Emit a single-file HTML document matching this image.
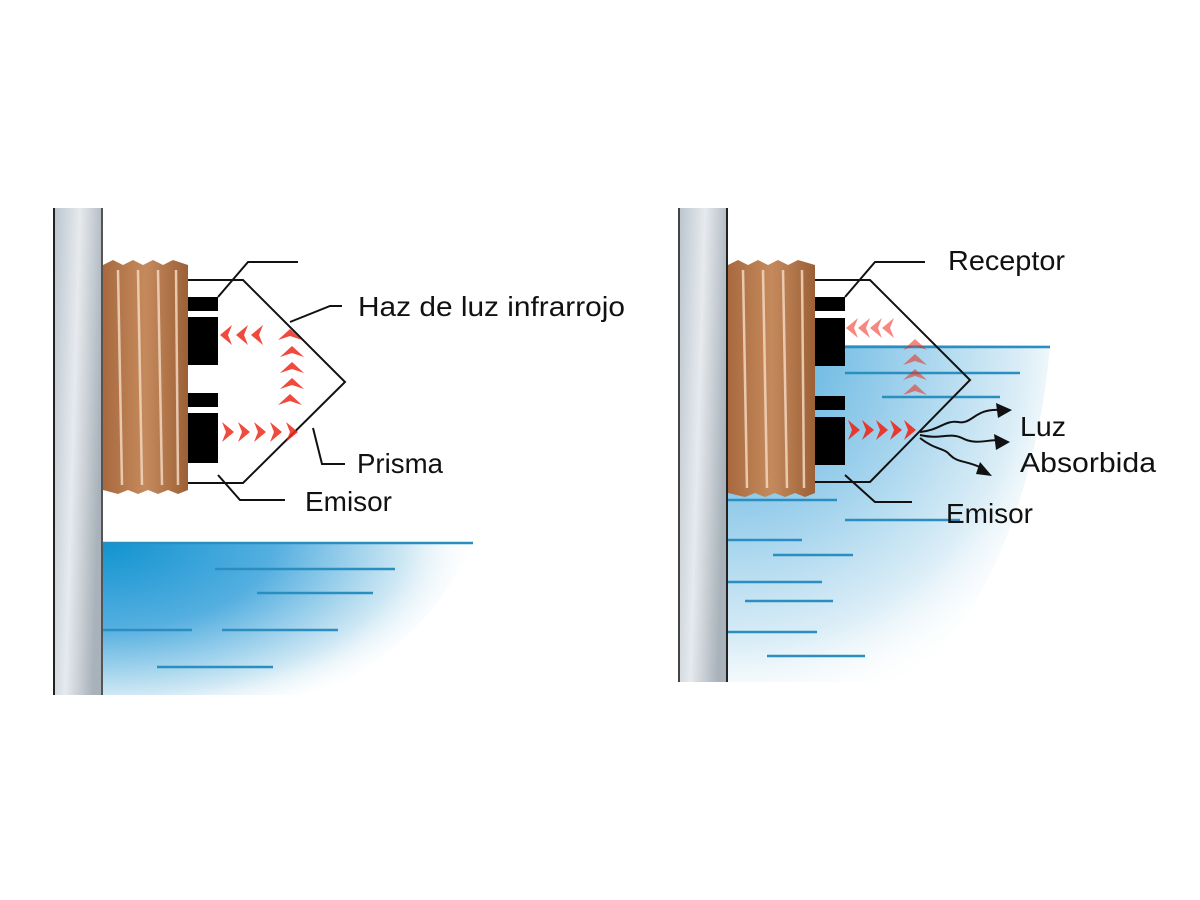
<!DOCTYPE html>
<html><head><meta charset="utf-8"><style>
html,body{margin:0;padding:0;background:#fff;}
svg{display:block}
text{font-family:"Liberation Sans",sans-serif;font-size:28px;fill:#111}
</style></head><body>
<svg width="1200" height="900" viewBox="0 0 1200 900" xmlns="http://www.w3.org/2000/svg">
<defs>
<linearGradient id="wall" x1="0" x2="1" y1="0" y2="0.3">
<stop offset="0" stop-color="#b9c3cc"/><stop offset="0.5" stop-color="#e6eaee"/><stop offset="1" stop-color="#a9b2ba"/></linearGradient>
<linearGradient id="wood" x1="0" x2="1">
<stop offset="0" stop-color="#a8693f"/><stop offset="0.5" stop-color="#c58a5c"/><stop offset="1" stop-color="#9c6037"/></linearGradient>
<radialGradient id="wl" cx="103" cy="543" r="380" gradientUnits="userSpaceOnUse" gradientTransform="translate(103 543) scale(1 0.5) translate(-103 -543)">
<stop offset="0" stop-color="#1193d0"/><stop offset="0.45" stop-color="#55afe0"/><stop offset="0.8" stop-color="#cfe8f4"/><stop offset="1" stop-color="#ffffff" stop-opacity="0"/></radialGradient>
<radialGradient id="wr" cx="728" cy="350" r="380" gradientUnits="userSpaceOnUse">
<stop offset="0" stop-color="#4aaadb"/><stop offset="0.4" stop-color="#92cbea"/><stop offset="0.78" stop-color="#dceef7"/><stop offset="1" stop-color="#ffffff" stop-opacity="0"/></radialGradient>
<g id="chevR"><path d="M0,-10 L12,0 L0,10 L4,0Z" fill="#ee2a1c"/></g>
<g id="chevL"><path d="M0,-10 L-12,0 L0,10 L-4,0Z" fill="#ee2a1c"/></g>
<g id="chevU"><path d="M-12,5 L0,-6 L12,5 L0,1Z" fill="#ee2a1c"/></g>
</defs>

<!-- LEFT PANEL -->
<path d="M103,543 L473,543 C450,600 380,680 300,695 L103,695Z" fill="url(#wl)"/>
<g stroke="#2a8fc0" stroke-width="2.5">
<line x1="103" y1="543" x2="473" y2="543"/><line x1="215" y1="569" x2="395" y2="569"/>
<line x1="257" y1="593" x2="373" y2="593"/><line x1="103" y1="630" x2="192" y2="630"/>
<line x1="222" y1="630" x2="338" y2="630"/><line x1="157" y1="667" x2="273" y2="667"/></g>
<rect x="53" y="208" width="50" height="487" fill="url(#wall)"/>
<line x1="54" y1="208" x2="54" y2="695" stroke="#222" stroke-width="2"/>
<line x1="102" y1="208" x2="102" y2="695" stroke="#555" stroke-width="2"/>
<path d="M103,265 l10,-5 l10,5 l10,-5 l10,5 l10,-5 l10,5 l10,-5 l15,5 L188,490 l-10,4 l-10,-4 l-10,4 l-10,-4 l-10,4 l-10,-4 l-10,4 l-15,-4Z" fill="url(#wood)"/>
<g stroke="#f3d8c0" stroke-width="2.5" opacity="0.85"><line x1="118" y1="270" x2="122" y2="485"/><line x1="138" y1="270" x2="142" y2="485"/><line x1="158" y1="270" x2="162" y2="485"/><line x1="176" y1="270" x2="178" y2="485"/></g>
<g fill="#000"><rect x="188" y="297" width="30" height="14"/><rect x="188" y="317" width="30" height="48"/><rect x="188" y="393" width="30" height="14"/><rect x="188" y="413" width="30" height="50"/></g>
<g fill="none" stroke="#111" stroke-width="2">
<polyline points="188,280 243,280 345,382 243,483 188,483"/>
<polyline points="218,297 248,262 298,262"/>
<polyline points="290,322 330,306 342,306"/>
<polyline points="313,428 322,464 345,464"/>
<polyline points="218,475 240,500 285,500"/></g>
<g opacity="0.85">
<use href="#chevL" x="232" y="335"/><use href="#chevL" x="248" y="335"/><use href="#chevL" x="263" y="335"/>
<use href="#chevU" x="290" y="335"/><use href="#chevU" x="292" y="352"/><use href="#chevU" x="292" y="368"/><use href="#chevU" x="292" y="384"/><use href="#chevU" x="290" y="400"/>
<use href="#chevR" x="222" y="432"/><use href="#chevR" x="238" y="432"/><use href="#chevR" x="254" y="432"/><use href="#chevR" x="270" y="432"/><use href="#chevR" x="286" y="432"/></g>
<text x="358" y="316" textLength="267" lengthAdjust="spacingAndGlyphs">Haz de luz infrarrojo</text>
<text x="357" y="473" textLength="86" lengthAdjust="spacingAndGlyphs">Prisma</text>
<text x="305" y="511" textLength="87" lengthAdjust="spacingAndGlyphs">Emisor</text>

<!-- RIGHT PANEL -->
<path d="M728,345 L1050,345 C1040,470 990,630 900,682 L728,682Z" fill="url(#wr)"/>
<g stroke="#2a8fc0" stroke-width="2.5">
<line x1="845" y1="347" x2="1050" y2="347"/><line x1="845" y1="373" x2="1020" y2="373"/><line x1="882" y1="397" x2="1000" y2="397"/>
<line x1="728" y1="500" x2="837" y2="500"/><line x1="845" y1="520" x2="960" y2="520"/>
<line x1="728" y1="540" x2="802" y2="540"/><line x1="773" y1="555" x2="853" y2="555"/>
<line x1="728" y1="582" x2="822" y2="582"/><line x1="745" y1="601" x2="833" y2="601"/>
<line x1="728" y1="632" x2="817" y2="632"/><line x1="767" y1="656" x2="865" y2="656"/></g>
<rect x="678" y="208" width="50" height="474" fill="url(#wall)"/>
<line x1="679" y1="208" x2="679" y2="682" stroke="#444" stroke-width="2"/>
<line x1="727" y1="208" x2="727" y2="682" stroke="#222" stroke-width="2"/>
<path d="M728,265 l10,-5 l10,5 l10,-5 l10,5 l10,-5 l10,5 l10,-5 l17,5 L815,493 l-10,4 l-10,-4 l-10,4 l-10,-4 l-10,4 l-10,-4 l-10,4 l-17,-4Z" fill="url(#wood)"/>
<g stroke="#f3d8c0" stroke-width="2.5" opacity="0.85"><line x1="743" y1="270" x2="747" y2="488"/><line x1="763" y1="270" x2="767" y2="488"/><line x1="783" y1="270" x2="787" y2="488"/><line x1="802" y1="270" x2="804" y2="488"/></g>
<g fill="#000"><rect x="815" y="297" width="30" height="14"/><rect x="815" y="318" width="30" height="48"/><rect x="815" y="396" width="30" height="14"/><rect x="815" y="417" width="30" height="48"/></g>
<g fill="none" stroke="#111" stroke-width="2">
<polyline points="815,280 870,280 970,380 870,482 815,482"/>
<polyline points="845,297 875,262 925,262"/>
<polyline points="845,475 875,502 912,502"/></g>
<g opacity="0.55">
<use href="#chevL" x="858" y="328"/><use href="#chevL" x="870" y="328"/><use href="#chevL" x="882" y="328"/><use href="#chevL" x="894" y="328"/>
<use href="#chevU" x="915" y="345"/><use href="#chevU" x="915" y="360"/><use href="#chevU" x="915" y="375"/><use href="#chevU" x="915" y="390"/></g>
<g opacity="0.9"><use href="#chevR" x="848" y="430"/><use href="#chevR" x="862" y="430"/><use href="#chevR" x="876" y="430"/><use href="#chevR" x="890" y="430"/><use href="#chevR" x="904" y="430"/></g>
<g fill="none" stroke="#111" stroke-width="2">
<path d="M920,432 C940,430 945,420 958,422 C972,425 975,408 1000,410"/>
<path d="M920,435 C940,440 950,432 962,438 C975,445 985,440 1000,440"/>
<path d="M920,438 C935,450 945,448 950,455 C958,463 965,460 982,468"/></g>
<g fill="#111"><path d="M1012,410 L996,403 L998,418Z"/><path d="M1010,442 L994,434 L996,450Z"/><path d="M992,476 L980,462 L976,474Z"/></g>
<text x="948" y="270" textLength="117" lengthAdjust="spacingAndGlyphs">Receptor</text>
<text x="1020" y="436" textLength="46" lengthAdjust="spacingAndGlyphs">Luz</text>
<text x="1020" y="472" textLength="136" lengthAdjust="spacingAndGlyphs">Absorbida</text>
<text x="946" y="523" textLength="87" lengthAdjust="spacingAndGlyphs">Emisor</text>
</svg>
</body></html>
